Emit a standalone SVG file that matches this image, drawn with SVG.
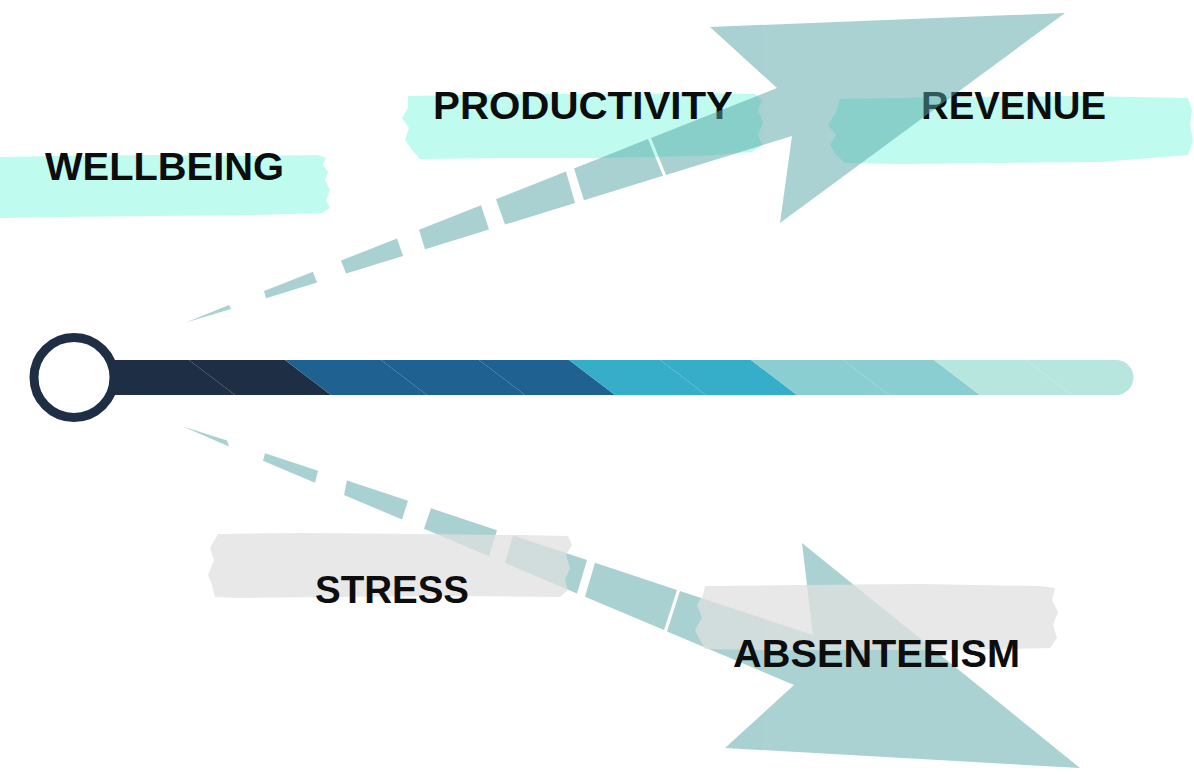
<svg xmlns="http://www.w3.org/2000/svg" width="1194" height="774" viewBox="0 0 1194 774">
<style>
.lbl{font-family:"Liberation Sans",Arial,sans-serif;font-weight:bold;font-size:39px;fill:#0d0d0d}
.cyanband{fill:#bffbef}
.grayband{fill:#dfe0df;opacity:0.75}
.arrow{fill:#55a5a5;opacity:0.5}
.navy{fill:#1e2f45}.blue{fill:#1f6191}.cyan{fill:#37aec9}.teal{fill:#8bced2}.light{fill:#b7e6df}
</style>
<rect width="1194" height="774" fill="#ffffff"/>

<g id="node-wellbeing">
<path class="cyanband" d="M0,157 L60,156 L150,155 L250,156 L318,155 L326,158 L323,165 L328,172 L325,180 L330,190 L326,200 L330,208 L322,213 L250,215 L150,216 L60,217 L0,218 Z"/>
<text class="lbl" x="45" y="179.5" textLength="239" lengthAdjust="spacingAndGlyphs">WELLBEING</text>
</g>

<g id="node-productivity">
<path class="cyanband" d="M408,96 L500,94 L620,94 L700,93 L755,94 L762,100 L758,110 L763,122 L758,135 L762,145 L752,152 L700,156 L600,158 L500,158 L420,159 L412,150 L405,140 L409,128 L402,118 L408,108 Z"/>
<text class="lbl" x="433" y="119" textLength="300" lengthAdjust="spacingAndGlyphs">PRODUCTIVITY</text>
</g>

<g id="node-revenue">
<path class="cyanband" d="M840,99 L950,97 L1080,96 L1188,98 L1192,110 L1190,125 L1193,140 L1188,155 L1100,162 L1000,163 L900,164 L845,163 L836,155 L830,145 L836,135 L828,125 L836,112 Z"/>
<text class="lbl" x="921" y="118.5" textLength="185" lengthAdjust="spacingAndGlyphs">REVENUE</text>
</g>

<g id="timeline">
<polygon class="navy" points="100,360 189,360 235,395 100,395"/>
<polygon class="navy" points="189,360 285,360 331,395 235,395"/>
<polygon class="blue" points="285,360 381,360 427,395 331,395"/>
<polygon class="blue" points="381,360 479,360 525,395 427,395"/>
<polygon class="blue" points="479,360 569,360 615,395 525,395"/>
<polygon class="cyan" points="569,360 660,360 706,395 615,395"/>
<polygon class="cyan" points="660,360 751,360 797,395 706,395"/>
<polygon class="teal" points="751,360 843,360 889,395 797,395"/>
<polygon class="teal" points="843,360 934,360 980,395 889,395"/>
<polygon class="light" points="934,360 1026,360 1072,395 980,395"/>
<path class="light" d="M1026,360 L1116,360 A17.5,17.5 0 0 1 1116,395 L1072,395 Z"/>
<circle cx="74" cy="377.5" r="40" fill="#ffffff" stroke="#1e2f45" stroke-width="9"/>
</g>

<g id="connectors">
<g id="arrow-up" class="arrow">
<polygon points="186,322.5 229,305 231,309.1"/>
<polygon points="264,291.1 313,271.7 317,282.6 266,298.3"/>
<polygon points="341,260.6 397,238.4 403,256 346,273.6"/>
<polygon points="419,229.7 481,205.2 489,229.5 425,249.2"/>
<polygon points="496,199.2 566,171.5 575,203 505,224.6"/>
<polygon points="574,168.4 648,139.1 663,175.8 584,200.2"/>
<polygon points="651,137.9 777,88 710,27 1065,13 780,223 792,136 666,174.9"/>
</g>
<g id="arrow-down" class="arrow">
<polygon points="183,426.5 227,440.6 229,446.4"/>
<polygon points="265,453.2 318,470.8 315,482.7 263,460.8"/>
<polygon points="347,480.4 408,500.7 402,519.5 344,495"/>
<polygon points="431,508.3 497,530.2 489,556.2 424,528.8"/>
<polygon points="513,535.6 587,560.1 577,593.4 505,563"/>
<polygon points="595,562.8 677,590 664,630.1 585,596.8"/>
<polygon points="680,591 813,635 802,543 1080,768 725,748 794,685 667,631.4"/>
</g>
</g>

<g id="node-stress">
<path class="grayband" d="M218,534 L300,533 L420,534 L520,535 L568,536 L572,545 L566,555 L570,568 L565,580 L568,590 L560,597 L450,596 L330,597 L240,598 L215,597 L212,585 L208,575 L214,560 L210,548 Z"/>
<text class="lbl" x="315" y="603" textLength="154" lengthAdjust="spacingAndGlyphs">STRESS</text>
</g>

<g id="node-absenteeism">
<path class="grayband" d="M705,586 L800,585 L920,584 L1040,586 L1055,588 L1052,600 L1058,612 L1053,625 L1057,638 L1050,648 L960,650 L860,650 L760,650 L705,649 L700,640 L695,630 L702,618 L697,605 L703,595 Z"/>
<text class="lbl" x="733" y="666.5" textLength="287" lengthAdjust="spacingAndGlyphs">ABSENTEEISM</text>
</g>
</svg>
